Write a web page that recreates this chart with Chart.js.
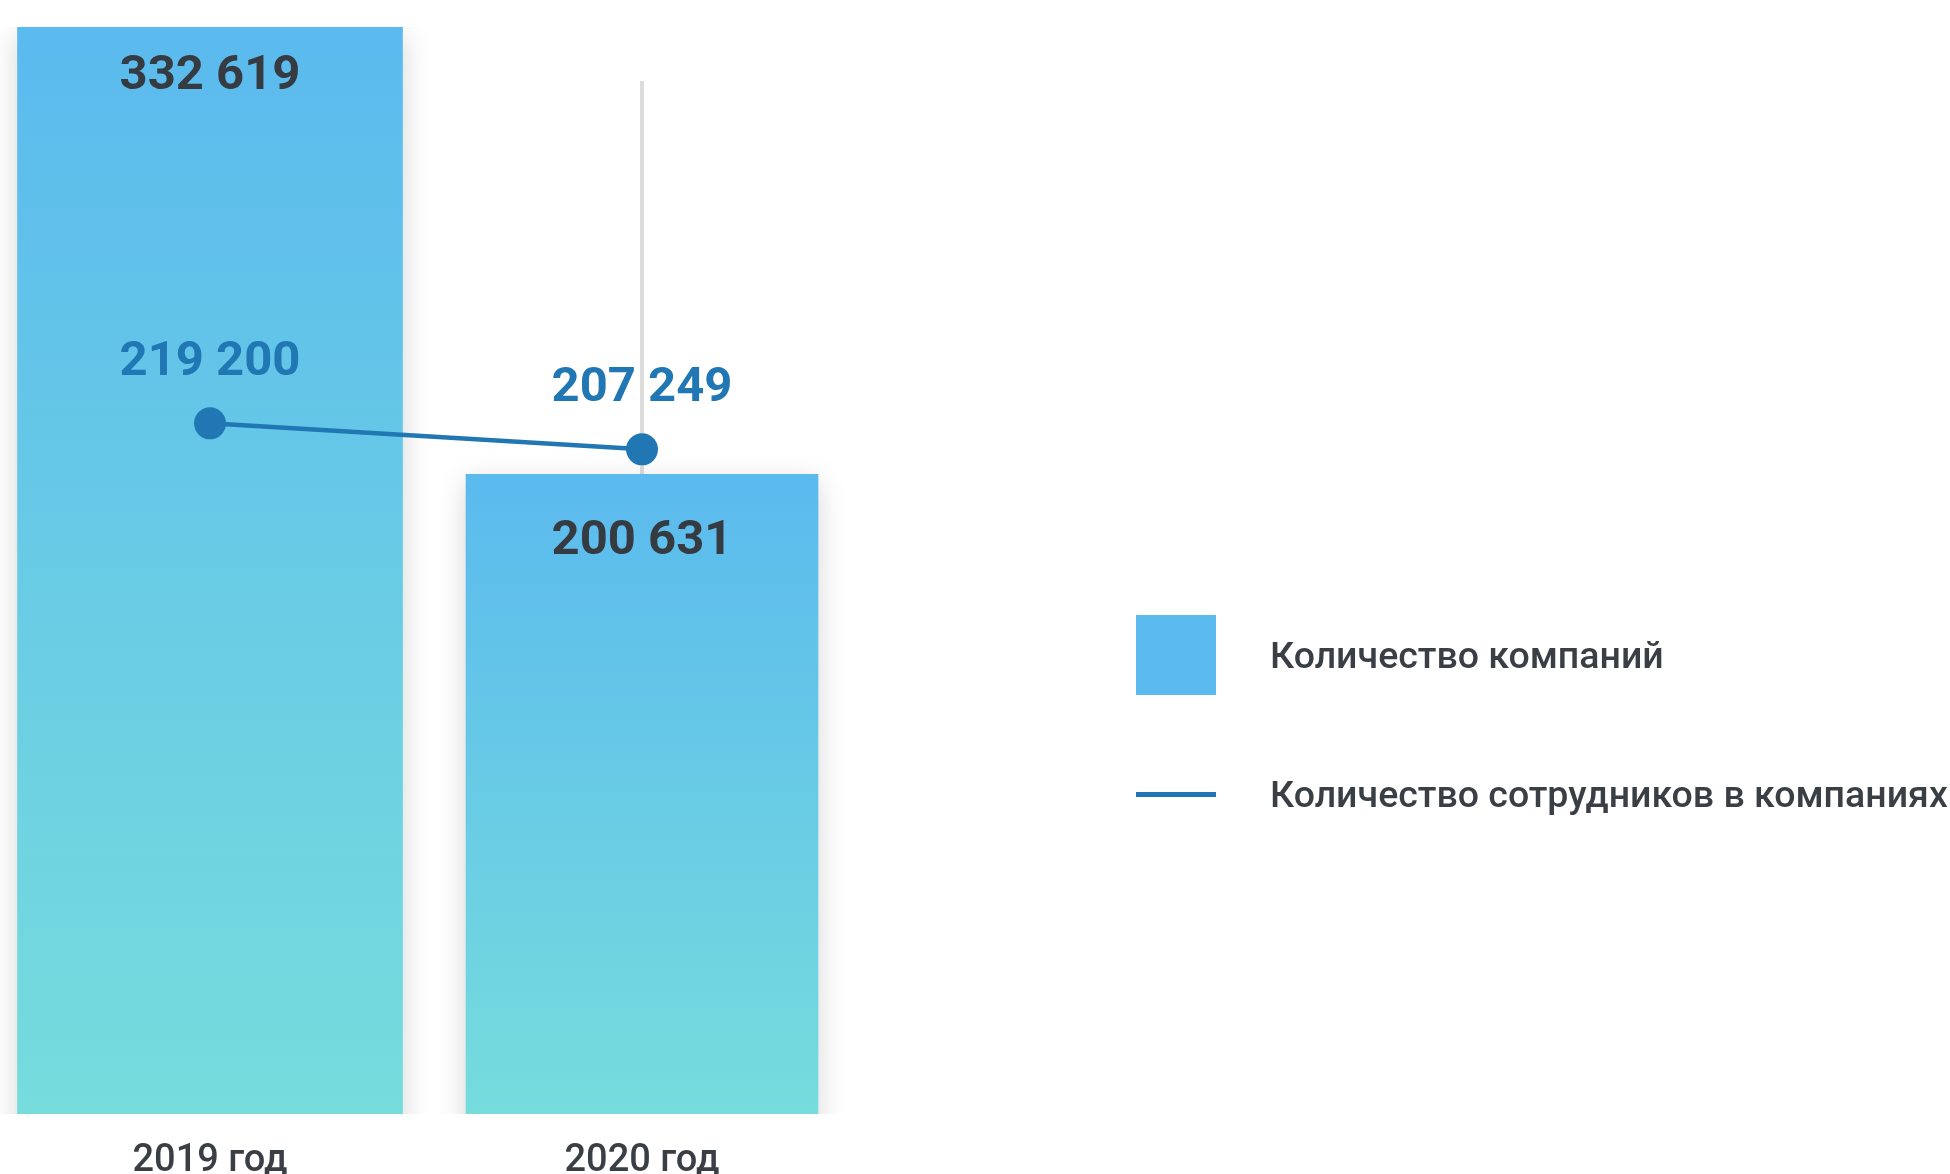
<!DOCTYPE html>
<html lang="ru">
<head>
<meta charset="utf-8">
<script src="https://cdn.jsdelivr.net/npm/chart.js@4"></script>
<style>
    html, body { margin: 0; padding: 0; background: #ffffff; }
    body { width: 1950px; height: 1174px; position: relative; overflow: hidden; font-family: Roboto, sans-serif; }
    #wrap { position: absolute; left: -6px; top: 0; width: 1956px; height: 1208px; }
    .legend { position: absolute; left: 1136px; top: 0; }
    .legend-item { position: absolute; left: 0; display: flex; align-items: center; white-space: nowrap; }
    .legend-item .label { font-size: 37.5px; font-weight: 500; color: #3a3f46; margin-left: 54px; }
    .swatch-box { width: 80px; height: 80px; background: #5bbaee; }
    .swatch-line { width: 80px; height: 5px; background: #2077b4; }
</style>
</head>
<body>
<div id="wrap"><canvas id="chart"></canvas></div>
<div class="legend">
    <div class="legend-item" style="top:615px"><div class="swatch-box"></div><span class="label" id="legendCompanies"></span></div>
    <div class="legend-item" style="top:774px;height:40px"><div class="swatch-line"></div><span class="label" id="legendEmployees"></span></div>
</div>
<script>
// #### Data
const years = ['2019 год', '2020 год']
const companies = [332619, 200631]
const employees = [219200, 207249]
const seriesNames = ['Количество компаний', 'Количество сотрудников в компаниях']

// #### Style
const barTop = '#5bbaee'
const barBottom = '#76dcdc'
const lineColor = '#2077b4'
const darkText = '#363b42'
const barWidths = [385, 352]
const barLabelOffsets = [50, 67]
const guideValue = 316700

document.getElementById('legendCompanies').textContent = seriesNames[0]
document.getElementById('legendEmployees').textContent = seriesNames[1]

function formatNumber(v) {
    return String(v).replace(/\B(?=(\d{3})+(?!\d))/g, ' ')
}

function barGradient(context) {
    const chart = context.chart
    if (!chart.chartArea || context.raw == null) return barTop
    const scale = chart.scales.y
    const top = scale.getPixelForValue(context.raw)
    const bottom = scale.getPixelForValue(scale.min)
    const g = chart.ctx.createLinearGradient(0, top, 0, bottom)
    g.addColorStop(0, barTop)
    g.addColorStop(1, barBottom)
    return g
}

// one dataset per bar so each can keep its own width
const barDatasets = companies.map((value, i) => ({
    type: 'bar',
    label: seriesNames[0],
    data: companies.map((v, j) => (j === i ? v : null)),
    backgroundColor: barGradient,
    barThickness: barWidths[i],
    grouped: false,
    yAxisID: 'y',
    order: 2
}))

const shadowPlugin = {
    id: 'barShadow',
    beforeDatasetDraw(chart, args) {
        if (chart.data.datasets[args.index].type !== 'bar') return
        const ctx = chart.ctx
        ctx.save()
        ctx.shadowColor = 'rgba(0, 0, 0, 0.16)'
        ctx.shadowBlur = 26
        ctx.shadowOffsetX = 0
        ctx.shadowOffsetY = 8
    },
    afterDatasetDraw(chart, args) {
        if (chart.data.datasets[args.index].type !== 'bar') return
        chart.ctx.restore()
    }
}

const guidePlugin = {
    id: 'guide',
    beforeDatasetsDraw(chart) {
        const ctx = chart.ctx
        const x = chart.scales.x.getPixelForValue(1)
        const top = chart.scales.y.getPixelForValue(guideValue)
        ctx.save()
        ctx.strokeStyle = '#dcdcdc'
        ctx.lineWidth = 4
        ctx.beginPath()
        ctx.moveTo(x, top)
        ctx.lineTo(x, chart.chartArea.bottom)
        ctx.stroke()
        ctx.restore()
    }
}

const valueLabels = {
    id: 'valueLabels',
    afterDatasetsDraw(chart) {
        const ctx = chart.ctx
        ctx.save()
        ctx.textAlign = 'center'
        ctx.textBaseline = 'middle'
        ctx.font = 'bold 49px Roboto'
        chart.data.datasets.forEach((ds, di) => {
            const meta = chart.getDatasetMeta(di)
            meta.data.forEach((el, i) => {
                const v = ds.data[i]
                if (v == null) return
                if (ds.type === 'bar') {
                    ctx.fillStyle = darkText
                    ctx.fillText(formatNumber(v), el.x, el.y + barLabelOffsets[i])
                } else {
                    ctx.fillStyle = lineColor
                    ctx.fillText(formatNumber(v), el.x, el.y - 61)
                }
            })
        })
        ctx.restore()
    }
}

new Chart(document.getElementById('chart'), {
    data: {
        labels: years,
        datasets: [
            {
                type: 'line',
                label: seriesNames[1],
                data: employees,
                borderColor: lineColor,
                backgroundColor: lineColor,
                borderWidth: 4.5,
                pointRadius: 16,
                pointHoverRadius: 16,
                pointBorderWidth: 0,
                tension: 0,
                yAxisID: 'y1',
                order: 1
            },
            ...barDatasets
        ]
    },
    options: {
        responsive: true,
        maintainAspectRatio: false,
        animation: false,
        layout: { autoPadding: false, padding: { top: 27, left: 0, right: 1092, bottom: 0 } },
        scales: {
            x: {
                offset: true,
                grid: { display: false, drawTicks: false },
                border: { display: false },
                ticks: {
                    color: '#3a3f46',
                    padding: 27,
                    font: { family: 'Roboto', size: 38, weight: '500', lineHeight: 1.05 }
                }
            },
            y: {
                display: false,
                min: 11950,
                max: 332619
            },
            y1: {
                display: false,
                min: -98000,
                max: 401200
            }
        },
        plugins: {
            legend: { display: false },
            tooltip: { enabled: false }
        }
    },
    plugins: [shadowPlugin, guidePlugin, valueLabels]
})
</script>
</body>
</html>
